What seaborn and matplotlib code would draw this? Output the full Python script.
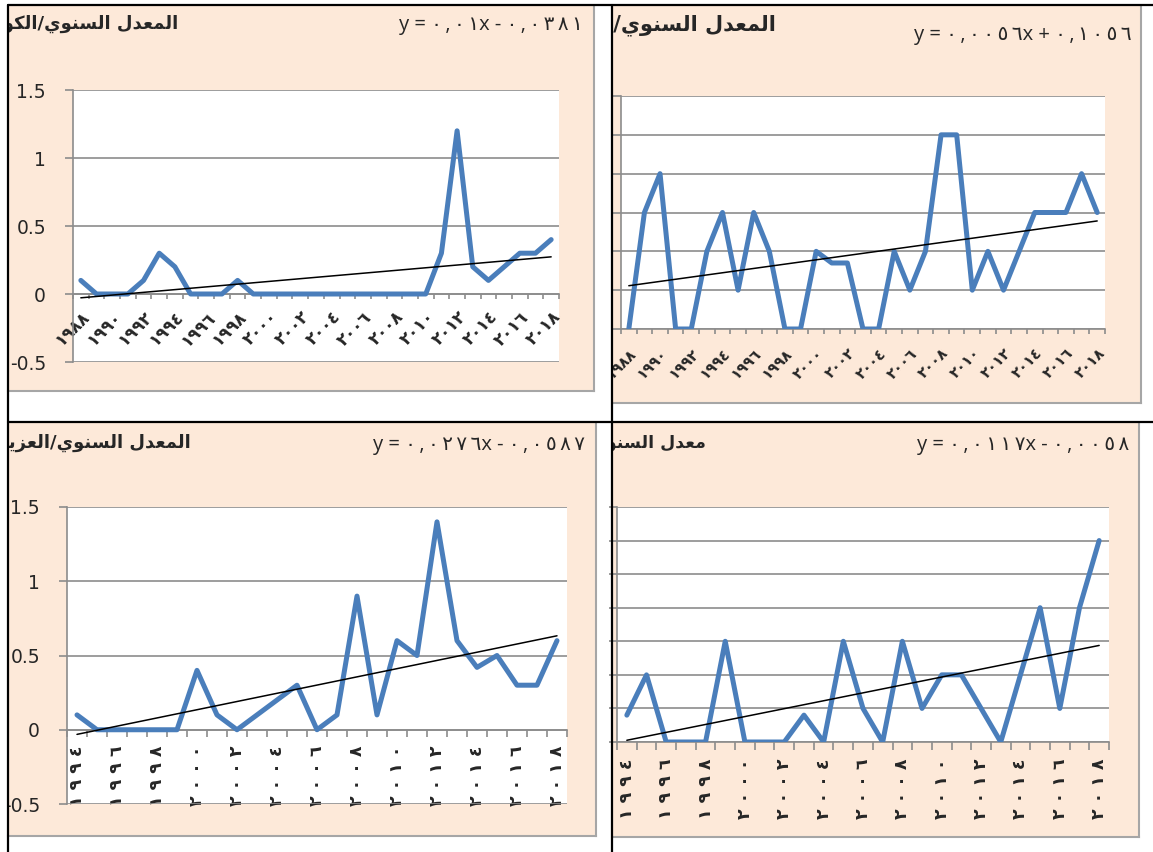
import numpy as np
import matplotlib.pyplot as plt
import seaborn as sns

# ---- data ----
years_top = list(range(1988, 2019))
years_bottom = list(range(1994, 2019))

kuwait = [0.1, 0, 0, 0, 0.1, 0.3, 0.2, 0, 0, 0, 0.1, 0,
          0, 0, 0, 0, 0, 0, 0, 0, 0, 0, 0,
          0.3, 1.2, 0.2, 0.1, 0.2, 0.3, 0.3, 0.4]
iraq = [0, 0.3, 0.4, 0, 0, 0.2, 0.3, 0.1, 0.3, 0.2, 0, 0, 0.2, 0.17, 0.17, 0,
        0, 0.2, 0.1, 0.2, 0.5, 0.5, 0.1, 0.2, 0.1, 0.2, 0.3, 0.3, 0.3, 0.4, 0.3]
aziziya = [0.1, 0, 0, 0, 0, 0, 0.4, 0.1, 0, 0.1, 0.2, 0.3, 0,
           0.1, 0.9, 0.1, 0.6, 0.5, 1.4, 0.6, 0.42, 0.5, 0.3, 0.3, 0.6]
mosul = [0.08, 0.2, 0, 0, 0, 0.3, 0, 0, 0, 0.08, 0, 0.3, 0.1,
         0, 0.3, 0.1, 0.2, 0.2, 0.1, 0, 0.2, 0.4, 0.1, 0.4, 0.6]

labels_top = ['١٩٨٨', '١٩٩٠', '١٩٩٢', '١٩٩٤', '١٩٩٦', '١٩٩٨', '٢٠٠٠', '٢٠٠٢',
              '٢٠٠٤', '٢٠٠٦', '٢٠٠٨', '٢٠١٠', '٢٠١٢', '٢٠١٤', '٢٠١٦', '٢٠١٨']
labels_bottom = ['١٩٩٤', '١٩٩٦', '١٩٩٨', '٢٠٠٠', '٢٠٠٢', '٢٠٠٤', '٢٠٠٦',
                 '٢٠٠٨', '٢٠١٠', '٢٠١٢', '٢٠١٤', '٢٠١٦', '٢٠١٨']

# titles are cut by the table cells in the scan
titles = ['المعدل السنوي/الكويت', 'المعدل السنوي/ال',
          'المعدل السنوي/العزيزية', 'معدل السنوي']
equations = ['y = ٠,٠١x - ٠,٠٣٨١', 'y = ٠,٠٠٥٦x + ٠,١٠٥٦',
             'y = ٠,٠٢٧٦x - ٠,٠٥٨٧', 'y = ٠,٠١١٧x - ٠,٠٠٥٨']

# arabic contextual forms (isolated, final, initial, medial)
FORMS = {
    'ا': ('\uFE8D', '\uFE8E', None, None), 'ت': ('\uFE95', '\uFE96', '\uFE97', '\uFE98'),
    'ة': ('\uFE93', '\uFE94', None, None), 'د': ('\uFEA9', '\uFEAA', None, None),
    'ر': ('\uFEAD', '\uFEAE', None, None), 'ز': ('\uFEAF', '\uFEB0', None, None),
    'س': ('\uFEB1', '\uFEB2', '\uFEB3', '\uFEB4'), 'ع': ('\uFEC9', '\uFECA', '\uFECB', '\uFECC'),
    'ك': ('\uFED9', '\uFEDA', '\uFEDB', '\uFEDC'), 'ل': ('\uFEDD', '\uFEDE', '\uFEDF', '\uFEE0'),
    'م': ('\uFEE1', '\uFEE2', '\uFEE3', '\uFEE4'), 'ن': ('\uFEE5', '\uFEE6', '\uFEE7', '\uFEE8'),
    'و': ('\uFEED', '\uFEEE', None, None), 'ي': ('\uFEF1', '\uFEF2', '\uFEF3', '\uFEF4'),
}
DIGITS = '٠١٢٣٤٥٦٧٨٩,'


def shape(s):
    out = []
    for i, ch in enumerate(s):
        if ch not in FORMS:
            out.append(ch)
            continue
        iso, fin, ini, med = FORMS[ch]
        prev = s[i - 1] if i > 0 else ''
        nxt = s[i + 1] if i + 1 < len(s) else ''
        jp = prev in FORMS and FORMS[prev][2] is not None
        jn = ini is not None and nxt in FORMS
        out.append(med if jp and jn else fin if jp else ini if jn else iso)
    return ''.join(reversed(out))


def loose(s, gap='\u2009'):
    # the scan sets the arabic-indic digits wide apart
    out = s[0]
    for a, b in zip(s, s[1:]):
        out += (gap if a in DIGITS and b in DIGITS else '') + b
    return out


sns.set_style('white')
plt.rcParams['font.family'] = ['Open Sans', 'DejaVu Sans']

W, H = 1153, 852
BEIGE = '#fde9d9'
BLUE = '#4a7ebb'
GRID = '#8c8c8c'


def rect(x0, y0, x1, y1):
    return [x0 / W, 1 - y1 / H, (x1 - x0) / W, (y1 - y0) / H]


fig = plt.figure(figsize=(W / 100, H / 100), dpi=100)
fig.patch.set_facecolor('white')

panels = [
    dict(bg=(8, 6, 594, 391), plot=(73, 90, 559, 362), years=years_top, vals=kuwait,
         ylim=(-0.5, 1.5), step=0.5, ylab=True, xlabels=labels_top, vertical=False,
         title_xy=(178, 24), tsize=13, eq_xy=(583, 25), tick=3.6, pad=10, xsize=12),
    dict(bg=(613, 6, 1141, 403), plot=(621, 96, 1105, 329), years=years_top, vals=iraq,
         ylim=(0, 0.6), step=0.1, ylab=False, xlabels=labels_top, vertical=False,
         title_xy=(776, 25), tsize=15, eq_xy=(1132, 35), tick=3.6, pad=12, xsize=10.5),
    dict(bg=(8, 423, 596, 836), plot=(67, 507, 567, 804), years=years_bottom, vals=aziziya,
         ylim=(-0.5, 1.5), step=0.5, ylab=True, xlabels=labels_bottom, vertical=True,
         title_xy=(191, 443), tsize=13, eq_xy=(585, 445), tick=5, pad=11, xsize=12.5),
    dict(bg=(613, 423, 1139, 837), plot=(617, 507, 1109, 742), years=years_bottom, vals=mosul,
         ylim=(0, 0.7), step=0.1, ylab=False, xlabels=labels_bottom, vertical=True,
         title_xy=(706, 443), tsize=12.5, eq_xy=(1129, 445), tick=5.5, pad=12, xsize=12.5),
]

for p, title, eq in zip(panels, titles, equations):
    x0, y0, x1, y1 = p['bg']
    bg = fig.add_axes(rect(x0, y0, x1, y1))
    bg.set_facecolor(BEIGE)
    bg.set_xlim(x0, x1)
    bg.set_ylim(y1, y0)
    bg.set_xticks([])
    bg.set_yticks([])
    for s in ['top', 'left']:
        bg.spines[s].set_visible(False)
    for s in ['right', 'bottom']:
        bg.spines[s].set_color('#a6a6a6')
        bg.spines[s].set_linewidth(1.5)
    bg.text(*p['title_xy'], shape(title), ha='right', va='center', fontsize=p['tsize'],
            fontweight='bold', family='DejaVu Sans', clip_on=True)
    bg.text(*p['eq_xy'], loose(eq), ha='right', va='center', fontsize=14.5, clip_on=True)

    ax = fig.add_axes(rect(*p['plot']))
    ax.set_facecolor('white')
    for s in ['top', 'right']:
        ax.spines[s].set_visible(False)
    for s in ['left', 'bottom']:
        ax.spines[s].set_color(GRID)
        ax.spines[s].set_linewidth(1.2)
    ax.spines['bottom'].set_position(('data', 0))

    years, vals = p['years'], p['vals']
    sns.lineplot(x=years, y=vals, ax=ax, color=BLUE, lw=3.6,
                 solid_joinstyle='round', solid_capstyle='round', zorder=3)
    sns.regplot(x=years, y=vals, ax=ax, scatter=False, ci=None, color='black',
                line_kws={'lw': 1.1, 'zorder': 4})
    ax.set_xlim(years[0] - 0.5, years[-1] + 0.5)
    ax.set_ylim(*p['ylim'])
    ax.set_xlabel('')
    ax.set_ylabel('')

    yt = np.arange(p['ylim'][0], p['ylim'][1] + p['step'] / 2, p['step'])
    ax.set_yticks(yt)
    ax.set_yticklabels(['{:g}'.format(round(v, 2)) for v in yt], family='DejaVu Sans')
    ax.yaxis.grid(True, color=GRID, lw=1.2)
    ax.xaxis.grid(False)
    ax.set_axisbelow(True)
    ax.tick_params(axis='y', length=6, width=1.2, color=GRID, labelsize=13.5, pad=13.5,
                   labelleft=p['ylab'], left=True)

    ax.set_xticks(np.arange(len(years) + 1) - 0.5 + years[0], minor=True)
    ax.set_xticks(years[::2])
    if p['vertical']:
        ax.set_xticklabels([loose(l, ' ') for l in p['xlabels']], rotation=90, ha='center',
                           va='top', fontsize=p['xsize'], fontweight='bold',
                           family='DejaVu Sans')
    else:
        ax.set_xticklabels(p['xlabels'], rotation=45, ha='right', va='top',
                           rotation_mode='anchor', fontsize=p['xsize'], fontweight='bold',
                           family='DejaVu Sans')
    ax.tick_params(axis='x', which='major', length=0, pad=p['pad'], bottom=True)
    ax.tick_params(axis='x', which='minor', length=p['tick'], width=1.2, color=GRID,
                   direction='out', bottom=True)

    for lab in ax.get_xticklabels() + ax.get_yticklabels():
        lab.set_clip_box(bg.bbox)

# table rules of the scanned page
frame = fig.add_axes([0, 0, 1, 1], zorder=10)
frame.set_xlim(0, W)
frame.set_ylim(H, 0)
frame.axis('off')
frame.patch.set_alpha(0)
for xs, ys in [([8, W], [5, 5]), ([8, W], [422, 422]), ([8, 8], [5, H]), ([612, 612], [5, H])]:
    frame.plot(xs, ys, color='black', lw=1.6)

fig.savefig('out.png', dpi=100)
